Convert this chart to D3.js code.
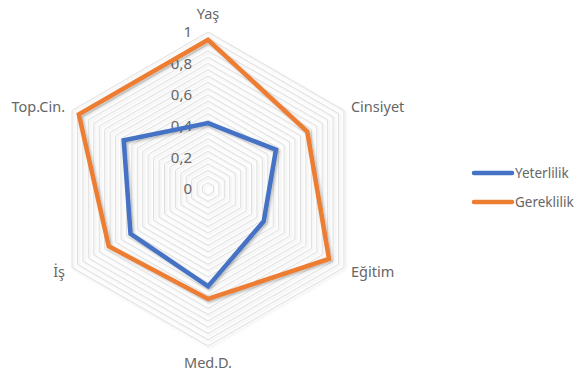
<!DOCTYPE html>
<html>
<head>
<meta charset="utf-8">
<script src="https://cdn.jsdelivr.net/npm/d3@7"></script>
<style>
  body { margin: 0; background: #fff; }
  text { font-family: "Noto Sans", "Open Sans", sans-serif; fill: #666666; }
</style>
</head>
<body>
<div id="chart"></div>
<script>
// data
const categories = ["Yaş", "Cinsiyet", "Eğitim", "Med.D.", "İş", "Top.Cin."];
const seriesNames = ["Yeterlilik", "Gereklilik"];
const yeterlilik = [0.42, 0.50, 0.41, 0.62, 0.57, 0.62];
const gereklilik = [0.95, 0.73, 0.89, 0.70, 0.73, 0.95];
const tickValues = [0, 0.2, 0.4, 0.6, 0.8, 1];
const tickLabels = ["0", "0,2", "0,4", "0,6", "0,8", "1"];
const colors = ["#4472C4", "#ED7D31"];

const W = 576, H = 373;
const cx = 208, cy = 189, R = 157;

const svg = d3.select("#chart").append("svg")
  .attr("width", W)
  .attr("height", H);

const defs = svg.append("defs");
const shadow = defs.append("filter").attr("id", "shadow")
  .attr("x", "-10%").attr("y", "-10%").attr("width", "120%").attr("height", "120%");
shadow.append("feDropShadow")
  .attr("dx", 1.5).attr("dy", 1.5).attr("stdDeviation", 1)
  .attr("flood-color", "#000").attr("flood-opacity", 0.25);

const gridShadow = defs.append("filter").attr("id", "gridShadow")
  .attr("x", "-10%").attr("y", "-10%").attr("width", "120%").attr("height", "120%");
gridShadow.append("feDropShadow")
  .attr("dx", 1.5).attr("dy", 1.5).attr("stdDeviation", 0.8)
  .attr("flood-color", "#000").attr("flood-opacity", 0.12);

const r = d3.scaleLinear().domain([0, 1]).range([0, R]);
const angle = d3.scalePoint().domain(categories).range([0, 2 * Math.PI * 5 / 6]);

const g = svg.append("g").attr("transform", `translate(${cx},${cy})`);

const radial = d3.lineRadial()
  .angle(d => angle(d.cat))
  .radius(d => r(d.v))
  .curve(d3.curveLinearClosed);

// gridlines (major 0.2, minor 0.04)
const rings = d3.range(1, 26).map(i => i * 0.04);
g.append("g").selectAll("path")
  .data(rings)
  .join("path")
  .attr("d", v => radial(categories.map(c => ({ cat: c, v: v }))))
  .attr("fill", "none")
  .attr("stroke", "#dedede")
  .attr("stroke-width", 1)
  .attr("filter", "url(#gridShadow)");

// tick labels
g.append("g").selectAll("text")
  .data(tickValues)
  .join("text")
  .attr("x", -16)
  .attr("y", v => -r(v))
  .attr("dy", "0.35em")
  .attr("text-anchor", "end")
  .attr("font-size", 15)
  .text((v, i) => tickLabels[i]);

// series
const series = [yeterlilik, gereklilik];
g.append("g").selectAll("path")
  .data(series)
  .join("path")
  .attr("d", s => radial(s.map((v, i) => ({ cat: categories[i], v: v }))))
  .attr("fill", "none")
  .attr("stroke", (s, i) => colors[i])
  .attr("stroke-width", 4.5)
  .attr("stroke-linejoin", "miter")
  .attr("filter", "url(#shadow)");

// category labels
const labelPos = {
  "Yaş": { dx: 0, dy: -18, anchor: "middle" },
  "Cinsiyet": { dx: 7, dy: -4, anchor: "start" },
  "Eğitim": { dx: 7, dy: 4, anchor: "start" },
  "Med.D.": { dx: 0, dy: 17, anchor: "middle" },
  "İş": { dx: -7, dy: 4, anchor: "end" },
  "Top.Cin.": { dx: -7, dy: -4, anchor: "end" }
};
g.append("g").selectAll("text")
  .data(categories)
  .join("text")
  .attr("x", c => Math.sin(angle(c)) * R + labelPos[c].dx)
  .attr("y", c => -Math.cos(angle(c)) * R + labelPos[c].dy)
  .attr("dy", "0.35em")
  .attr("text-anchor", c => labelPos[c].anchor)
  .attr("font-size", 14.5)
  .text(c => c);

// legend
const legend = svg.append("g").attr("transform", "translate(474,173)");
const item = legend.selectAll("g")
  .data(seriesNames)
  .join("g")
  .attr("transform", (d, i) => `translate(0,${i * 29})`);
item.append("line")
  .attr("x1", 0).attr("x2", 38)
  .attr("stroke", (d, i) => colors[i])
  .attr("stroke-width", 4.5)
  .attr("stroke-linecap", "round");
item.append("text")
  .attr("x", 41)
  .attr("dy", "0.35em")
  .attr("font-size", 13.5)
  .text(d => d);
</script>
</body>
</html>
